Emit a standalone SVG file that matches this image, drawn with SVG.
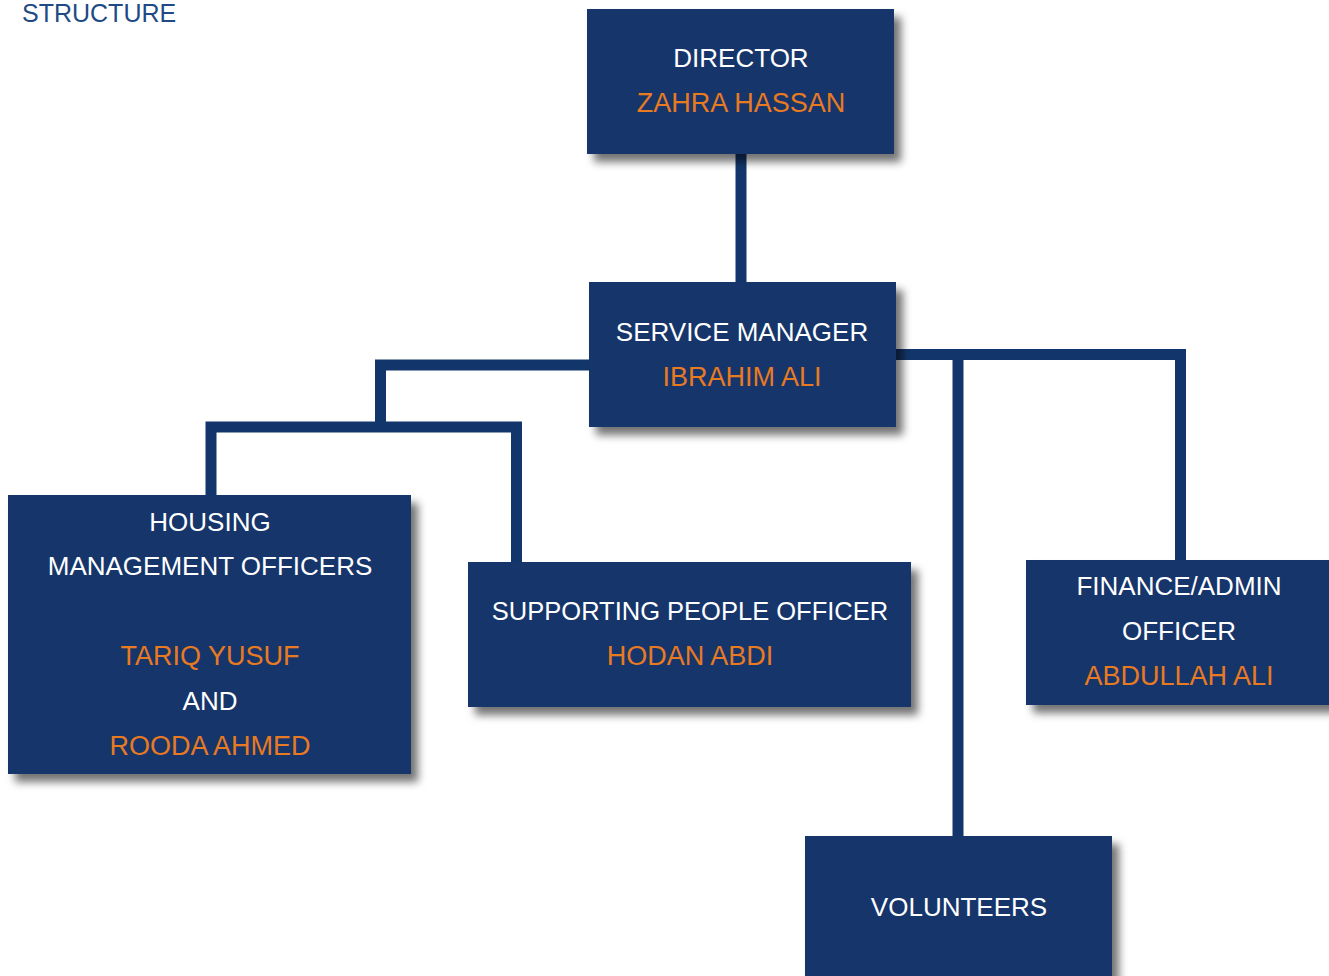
<svg xmlns="http://www.w3.org/2000/svg" width="1329" height="976" viewBox="0 0 1329 976">
  <style>
    .box { fill: #12366b; filter: url(#shadow); }
    .wire { fill: none; stroke: #12366b; stroke-width: 11; stroke-linejoin: miter; stroke-linecap: butt; }
    text { font-family: "Liberation Sans", Arial, sans-serif; font-size: 26px; text-anchor: middle; }
    .role { fill: #ffffff; }
    .name { fill: #e87a22; font-size: 27px; }
    .title { fill: #1f4a85; text-anchor: start; font-size: 25px; }
  </style>
  <defs>
    <filter id="shadow" x="-10%" y="-10%" width="130%" height="140%">
      <feDropShadow dx="7" dy="8" stdDeviation="4" flood-color="#000000" flood-opacity="0.55"/>
    </filter>
  </defs>

  <rect width="1329" height="976" fill="#ffffff"/>

  <text class="title" x="22" y="22">STRUCTURE</text>

  <!-- reporting lines -->
  <g id="connectors">
    <path class="wire" d="M741 150 V286"/>
    <path class="wire" d="M592 365 H380.5 V427"/>
    <path class="wire" d="M211 498 V427 H516.5 V565"/>
    <path class="wire" d="M893 354.5 H1180.5 V563"/>
    <path class="wire" d="M958 354.5 V839"/>
  </g>

  <g id="director">
    <rect class="box" x="587" y="9" width="307" height="145"/>
    <text class="role" x="741" y="67">DIRECTOR</text>
    <text class="name" x="741" y="112">ZAHRA HASSAN</text>
  </g>

  <g id="service-manager">
    <rect class="box" x="589" y="282" width="307" height="145"/>
    <text class="role" x="742" y="341">SERVICE MANAGER</text>
    <text class="name" x="742" y="386">IBRAHIM ALI</text>
  </g>

  <g id="housing-officers">
    <rect class="box" x="8" y="495" width="403" height="279"/>
    <text class="role" x="210" y="531">HOUSING</text>
    <text class="role" x="210" y="575">MANAGEMENT OFFICERS</text>
    <text class="name" x="210" y="665">TARIQ YUSUF</text>
    <text class="role" x="210" y="710">AND</text>
    <text class="name" x="210" y="755">ROODA AHMED</text>
  </g>

  <g id="supporting-people">
    <rect class="box" x="468" y="562" width="443" height="145"/>
    <text class="role" x="690" y="620" style="font-size:25.5px">SUPPORTING PEOPLE OFFICER</text>
    <text class="name" x="690" y="665">HODAN ABDI</text>
  </g>

  <g id="finance-admin">
    <rect class="box" x="1026" y="560" width="310" height="145"/>
    <text class="role" x="1179" y="595">FINANCE/ADMIN</text>
    <text class="role" x="1179" y="640">OFFICER</text>
    <text class="name" x="1179" y="685">ABDULLAH ALI</text>
  </g>

  <g id="volunteers">
    <rect class="box" x="805" y="836" width="307" height="150"/>
    <text class="role" x="959" y="916">VOLUNTEERS</text>
  </g>
</svg>
